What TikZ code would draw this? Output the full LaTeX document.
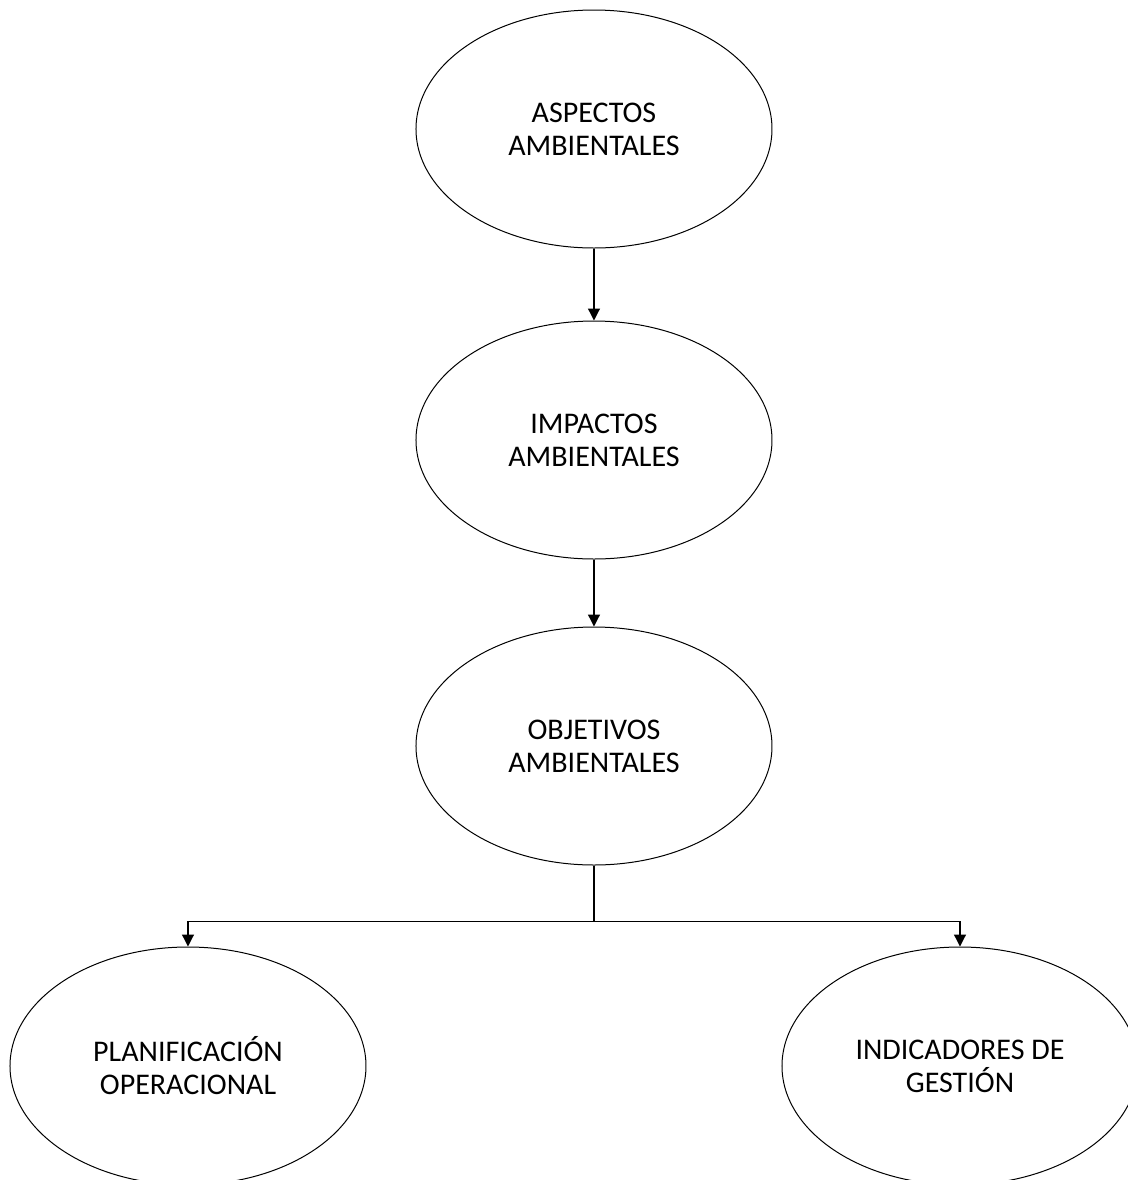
\documentclass[tikz,border=0pt]{standalone}
\usepackage{fontspec}
\setmainfont{Carlito}
\usetikzlibrary{shapes.geometric}
\usetikzlibrary{positioning}
\usetikzlibrary{arrows.meta}

\tikzset{
    myarrow/.style={-{Triangle[length=6pt,width=6pt]}, line width=0.6pt},
    bubble/.style={draw, ellipse, line width=0.5pt, inner sep=0pt, minimum width=178pt, minimum height=119pt, align=center, font=\fontsize{15}{16.5}\selectfont}
}

\begin{document}
\begin{tikzpicture}

%%%%%%%%%%%%%%%%%%%%%%%%%%%%%%%%%%%%%%%%%%%%%%%%%%%%%%%%%
%                       Begin Picture                   %
%%%%%%%%%%%%%%%%%%%%%%%%%%%%%%%%%%%%%%%%%%%%%%%%%%%%%%%%%

% Block Aspectos
\node[bubble] (aspectos) {ASPECTOS\\AMBIENTALES};

% Page frame
\useasboundingbox (aspectos.center) ++(-297pt,64.5pt) rectangle ++(564pt,-590pt);

% Block Impactos
\node[bubble, below=36pt of aspectos] (impactos) {IMPACTOS\\AMBIENTALES};
\draw[myarrow] (aspectos.south) -- (impactos.north);

% Block Objetivos
\node[bubble, below=33.5pt of impactos] (objetivos) {OBJETIVOS\\AMBIENTALES};
\draw[myarrow] (impactos.south) -- (objetivos.north);


%%% Bottom Branches %%%

% Split point under Objetivos
\coordinate[below=28pt of objetivos.south] (split);

% Block Planificacion
\node[bubble, below=40.5pt of objetivos.south, anchor=north, xshift=-203pt] (planif) {PLANIFICACIÓN\\OPERACIONAL};

% Block Indicadores
\node[bubble, below=40.5pt of objetivos.south, anchor=north, xshift=183pt] (indic) {INDICADORES DE\\GESTIÓN};

\draw[line width=0.6pt] (objetivos.south) -- (split);
\draw[myarrow] (split) -| (planif.north);
\draw[myarrow] (split) -| (indic.north);

\end{tikzpicture}
\end{document}
